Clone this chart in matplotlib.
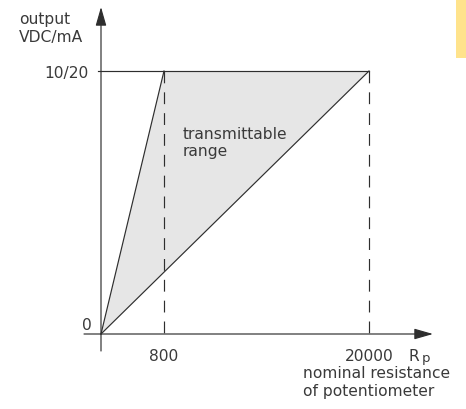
import numpy as np
import matplotlib
matplotlib.use("Agg")
import matplotlib.pyplot as plt
from matplotlib.patches import Rectangle

# resistance breakpoints (ohm) and output levels
r_min = 800
r_max = 20000
out_zero = 0
out_full = 10
x_tick_values = [800, 20000]
x_tick_labels = ["800", "20000"]
y_tick_values = [0, 10]
y_tick_labels = ["0", "10/20"]

W, H = 466, 410
fig = plt.figure(figsize=(W / 100, H / 100), dpi=100)
ax = fig.add_axes([0, 0, 1, 1])
ax.set_axis_off()

plt.rcParams["lines.scale_dashes"] = False
INK = "#2e2e2e"
TXT = "#3a3a3a"
FILL = "#e6e6e6"
FS = 11.2
FONT = "DejaVu Sans"

# piecewise-linear resistance axis: the 0..800 part is stretched
BREAK = 800.0
U1 = 63.0          # display units for 0..800
U2 = 205.0         # display units for 800..20000
k1 = U1 / BREAK
k2 = U2 / (20000.0 - BREAK)


def fwd(x):
    x = np.asarray(x, dtype=float)
    return np.where(x <= BREAK, x * k1, U1 + (x - BREAK) * k2)


def inv(u):
    u = np.asarray(u, dtype=float)
    return np.where(u <= U1, u / k1, BREAK + (u - U1) / k2)


ax.set_xscale("function", functions=(fwd, inv))

X0, Y0 = 101.0, 335.0          # origin in pixels
py_per_unit = (335.0 - 72.0) / 10.0
ax.set_xlim(float(inv(-X0)), float(inv(W - X0)))
ax.set_ylim(-(H - Y0) / py_per_unit, Y0 / py_per_unit)


def fx(px):
    return px / W


def fy(py):
    return 1 - py / H


# transmittable range
ax.fill([0, r_min, r_max], [out_zero, out_full, out_full], color=FILL, lw=0, zorder=1)
ax.plot([0, r_min], [out_zero, out_full], color=INK, lw=0.85, zorder=3)
ax.plot([0, r_max], [out_zero, out_full], color=INK, lw=0.85, zorder=3)
ax.plot([float(inv(-3)), r_max], [out_full, out_full], color=INK, lw=0.85, zorder=3)

for xv in x_tick_values:
    ax.plot([xv, xv], [out_full, out_zero], color=INK, lw=0.85,
            dashes=(8.5, 6.5), zorder=2)

# axes with arrow heads
arrow = dict(arrowstyle="-|>,head_length=11.5,head_width=3.3", mutation_scale=1,
             color=INK, lw=0.85, shrinkA=0, shrinkB=0)
ax.annotate("", xy=(0, fy(8)), xytext=(0, fy(352)),
            xycoords=("data", "axes fraction"), textcoords=("data", "axes fraction"),
            arrowprops=arrow, zorder=4)
ax.annotate("", xy=(fx(433), 0), xytext=(fx(84), 0),
            xycoords=("axes fraction", "data"), textcoords=("axes fraction", "data"),
            arrowprops=arrow, zorder=4)

tkw = dict(fontsize=FS, color=TXT, family=FONT)

# y tick labels
ax.text(fx(92), fy(330), y_tick_labels[0], ha="right", va="baseline",
        transform=ax.transAxes, **tkw)
ax.text(fx(89), fy(78), y_tick_labels[1], ha="right", va="baseline",
        transform=ax.transAxes, **tkw)

# x tick labels
for xv, lab in zip(x_tick_values, x_tick_labels):
    ax.annotate(lab, xy=(xv, fy(361.5)), xycoords=("data", "axes fraction"),
                ha="center", va="baseline", **tkw)

# axis titles
ax.text(fx(19), fy(24), "output", ha="left", va="baseline", transform=ax.transAxes, **tkw)
ax.text(fx(19), fy(42), "VDC/mA", ha="left", va="baseline", transform=ax.transAxes, **tkw)
ax.text(fx(409), fy(361.5), "R", ha="left", va="baseline", transform=ax.transAxes, **tkw)
ax.text(fx(421.5), fy(362.5), "p", ha="left", va="baseline", transform=ax.transAxes,
        fontsize=FS * 0.85, color=TXT, family=FONT)
ax.text(fx(303), fy(378), "nominal resistance", ha="left", va="baseline",
        transform=ax.transAxes, **tkw)
ax.text(fx(303), fy(396), "of potentiometer", ha="left", va="baseline",
        transform=ax.transAxes, **tkw)

ax.text(fx(183), fy(139), "transmittable", ha="left", va="baseline",
        transform=ax.transAxes, **tkw)
ax.text(fx(183), fy(156), "range", ha="left", va="baseline",
        transform=ax.transAxes, **tkw)

# page marker tab
fig.patches.append(Rectangle((456 / W, 1 - 59 / H), 10 / W, 59 / H,
                             transform=fig.transFigure, color="#ffe38c", lw=0))

fig.savefig("out.png", dpi=100)
